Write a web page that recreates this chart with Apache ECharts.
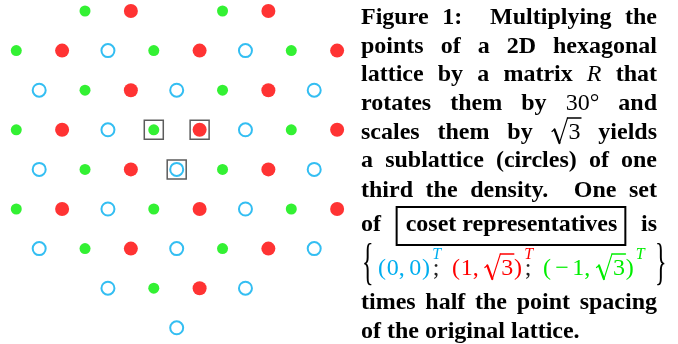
<!DOCTYPE html>
<html><head><meta charset="utf-8">
<script src="https://cdn.jsdelivr.net/npm/echarts@6/dist/echarts.min.js"></script>
<style>html,body{margin:0;padding:0;background:#fff}#c{width:678px;height:344px}</style>
</head><body><div id="c"></div>
<script>
// Lattice points: [x in half point-spacings, lattice row]
const greenPoints = [[-4,4],[2,4],[-7,3],[-1,3],[5,3],[-4,2],[2,2],[-7,1],[-1,1],[5,1],[-4,0],[2,0],[-7,-1],[-1,-1],[5,-1],[-4,-2],[2,-2],[-1,-3]];
const redPoints = [[-2,4],[4,4],[-5,3],[1,3],[7,3],[-2,2],[4,2],[-5,1],[1,1],[7,1],[-2,0],[4,0],[-5,-1],[1,-1],[7,-1],[-2,-2],[4,-2],[1,-3]];
const bluePoints = [[-3,3],[3,3],[-6,2],[0,2],[6,2],[-3,1],[3,1],[-6,0],[0,0],[6,0],[-3,-1],[3,-1],[-6,-2],[0,-2],[6,-2],[-3,-3],[3,-3],[0,-4]];
const boxedPoints = [[-1,1],[1,1],[0,0]];

// Caption text
const captionLines = [
  ['Figure','1:','Multiplying','the'],
  ['points','of','a','2D','hexagonal'],
  ['lattice','by','a','matrix',{k:'mi',t:'R'},'that'],
  ['rotates','them','by',{k:'m',t:'30°'},'and'],
  ['scales','them','by',{k:'sqrt',t:'3'},'yields'],
  ['a','sublattice','(circles)','of','one'],
  ['third','the','density.','One','set'],
  ['of',{k:'box',t:'coset representatives'},'is'],
  null,
  ['times','half','the','point','spacing'],
  ['of','the','original','lattice.']
];
const cosetGroups = [
  {color:'#00aeef', toks:['(','0',',','0',')'], sup:'T', sep:';'},
  {color:'#ff0000', toks:['(','1',',','√','3',')'], sup:'T', sep:';'},
  {color:'#00ee00', toks:['(','−','1',',','√','3',')'], sup:'T', sep:null}
];

// ---- layout ----
const baselines = [25,54,82,111,140,168,198,232,276,310,339];
const LEFT = 361, RIGHT = 657, EM = 24;
const FB = 'bold 24px "Liberation Serif"';
const FM = '24px "Liberation Serif"';
const FMI = 'italic 24px "Liberation Serif"';
const FSUP = 'italic 16px "Liberation Serif"';
const RAD = 0.75 * EM;
const cv = document.createElement('canvas').getContext('2d');
function measure(font, s){ cv.font = font; return cv.measureText(s).width; }
const els = [];
function txt(s, x, base, font, size, color){
  return {type:'text', x:x, y:base - 0.305*size, silent:true, z:10,
    style:{text:s, font:font, fill:color, align:'left', verticalAlign:'middle', textAlign:'left', textVerticalAlign:'middle'}};
}
function line(points, color, lw){
  els.push({type:'polyline', silent:true, z:10, shape:{points:points}, style:{stroke:color, lineWidth:lw, fill:null, lineCap:'round', lineJoin:'round'}});
}
function radical(x0, b, color, overW){
  line([[x0+1.5,b-8.5],[x0+4,b-10.5]], color, 1.2);
  line([[x0+4,b-10.5],[x0+9,b+3]], color, 2.2);
  line([[x0+9,b+3],[x0+17,b-22]], color, 1.1);
  line([[x0+17,b-22],[x0+RAD+overW+0.5,b-22]], color, 1.4);
}
function wordWidth(it){
  if (typeof it === 'string') return measure(FB, it);
  if (it.k === 'mi') return measure(FMI, it.t);
  if (it.k === 'm') return measure(FM, it.t);
  if (it.k === 'sqrt') return RAD + measure(FM, it.t);
  if (it.k === 'box') return measure(FB, it.t) + 17;
}
function drawWord(it, x, b){
  if (typeof it === 'string') { els.push(txt(it, x, b, FB, EM, '#000')); return; }
  if (it.k === 'mi') { els.push(txt(it.t, x, b, FMI, EM, '#000')); return; }
  if (it.k === 'm') { els.push(txt(it.t, x, b, FM, EM, '#000')); return; }
  if (it.k === 'sqrt') {
    const w3 = measure(FM, it.t);
    radical(x, b, '#000', w3);
    els.push(txt(it.t, x+RAD, b, FM, EM, '#000')); return;
  }
  if (it.k === 'box') {
    const w = measure(FB, it.t) + 17;
    els.push({type:'rect', silent:true, z:10, shape:{x:x, y:b-25, width:w, height:38}, style:{fill:null, stroke:'#000', lineWidth:2}});
    els.push(txt(it.t, x+9, b, FB, EM, '#000'));
  }
}
const ADV = {'(':0.36, ')':0.389, '0':0.5, '1':0.5, '3':0.5, ',':0.445, '−':0.86, '√':0.75};
function drawMath(toks, x, b, color){
  toks.forEach((t, i) => {
    const adv = ADV[t] * EM;
    if (t === '√') {
      radical(x, b, color, ADV[toks[i+1]]*EM);
    } else if (t === ',') {
      els.push(txt(',', x, b, FM, EM, color));
    } else if (t === '(') {
      els.push(txt(t, x, b, FM, EM, color));
    } else {
      const gw = measure(FM, t);
      els.push(txt(t, x + (adv - gw)/2, b, FM, EM, color));
    }
    x += adv;
  });
  return x;
}
function brace(ch, x, b){
  els.push({type:'text', x:x, y:b-6.5, scaleY:2.1, silent:true, z:10,
    style:{text:ch, font:FM, fill:'#000', x:0, y:-2.1, align:'left', verticalAlign:'middle', textAlign:'left', textVerticalAlign:'middle'}});
}
function drawFormula(b){
  brace('{', 362, b);
  const starts = [378, 452, 543];
  cosetGroups.forEach((g, gi) => {
    const end = drawMath(g.toks, starts[gi], b, g.color);
    els.push(txt(g.sup, end+1.5, b-16, FSUP, 16, g.color));
    if (g.sep) els.push(txt(g.sep, end+2, b, FM, EM, '#222'));
  });
  brace('}', 655, b);
}
captionLines.forEach((ln, i) => {
  const b = baselines[i];
  if (!ln) { drawFormula(b); return; }
  const widths = ln.map(wordWidth);
  const gaps = [];
  for (let j = 0; j < ln.length-1; j++) {
    const s = typeof ln[j] === 'string' ? ln[j] : '';
    gaps.push(/[.:]$/.test(s) ? {nat:9, wt:2.5} : {nat:6, wt:1});
  }
  const isLast = i === captionLines.length - 1;
  let extra = 0;
  if (!isLast) {
    const tot = widths.reduce((a,c)=>a+c,0) + gaps.reduce((a,g)=>a+g.nat,0);
    extra = (RIGHT - LEFT - tot) / gaps.reduce((a,g)=>a+g.wt,0);
  }
  let x = LEFT;
  ln.forEach((it, j) => {
    drawWord(it, x, b);
    x += widths[j] + (j < gaps.length ? gaps[j].nat + extra*gaps[j].wt : 0);
  });
});

const chart = echarts.init(document.getElementById('c'), null, {renderer:'canvas'});
chart.setOption({
  animation:false,
  backgroundColor:'#fff',
  grid:{left:0, top:0, width:353.4, height:344},
  xAxis:{type:'value', min:-7.71, max:7.71, show:false},
  yAxis:{type:'value', min:-4.409, max:4.278, show:false},
  series:[
    {type:'scatter', data:boxedPoints, symbol:'rect', symbolSize:19, silent:true, z:1,
      itemStyle:{color:'rgba(0,0,0,0)', borderColor:'#333', borderWidth:1.5}},
    {type:'scatter', data:greenPoints, symbol:'circle', symbolSize:11, silent:true, z:2,
      itemStyle:{color:'#00ee00'}},
    {type:'scatter', data:redPoints, symbol:'circle', symbolSize:14, silent:true, z:2,
      itemStyle:{color:'#ff0000'}},
    {type:'scatter', data:bluePoints, symbol:'circle', symbolSize:13, silent:true, z:2,
      itemStyle:{color:'#ffffff', borderColor:'#00aeef', borderWidth:2}}
  ],
  graphic:{elements:els}
});
</script></body></html>
